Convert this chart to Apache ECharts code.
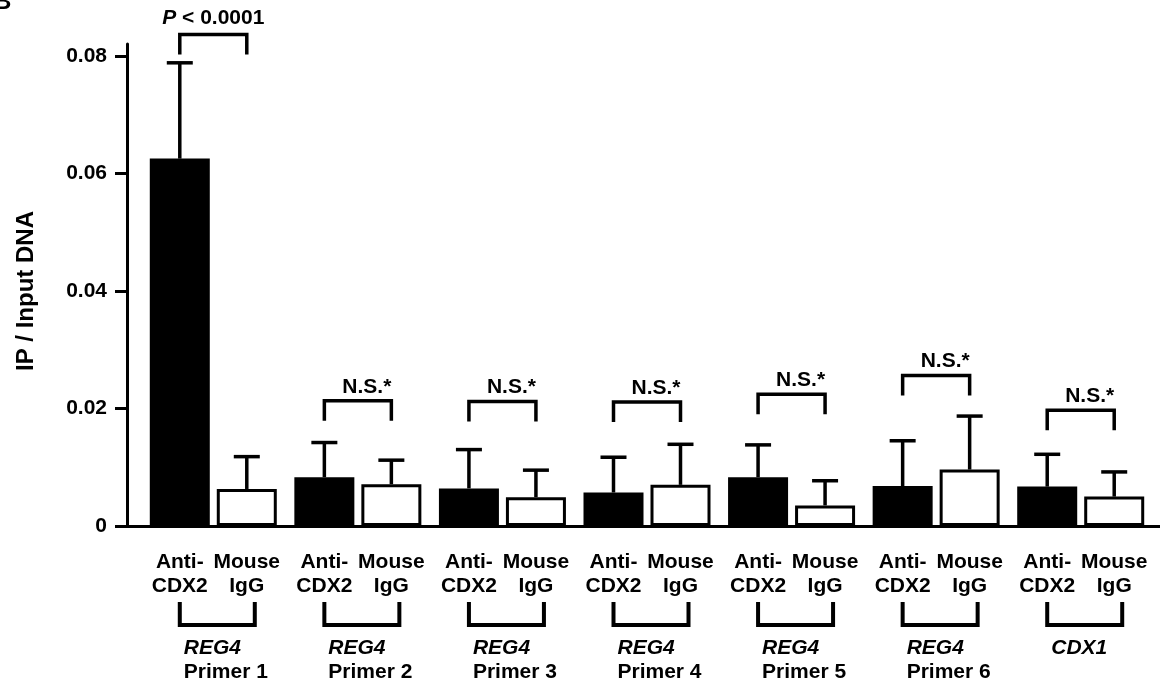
<!DOCTYPE html>
<html>
<head>
<meta charset="utf-8">
<script src="https://cdn.jsdelivr.net/npm/echarts@6/dist/echarts.min.js"></script>
<style>
  html, body { margin: 0; padding: 0; background: #fff; }
  #chart { width: 1160px; height: 687px; }
</style>
</head>
<body>
<div id="chart"></div>
<script>
// ChIP: anti-CDX2 vs mouse IgG, IP / input DNA
var groups = ['REG4 Primer 1', 'REG4 Primer 2', 'REG4 Primer 3', 'REG4 Primer 4', 'REG4 Primer 5', 'REG4 Primer 6', 'CDX1'];
var genes = ['REG4', 'REG4', 'REG4', 'REG4', 'REG4', 'REG4', 'CDX1'];
var primers = ['Primer 1', 'Primer 2', 'Primer 3', 'Primer 4', 'Primer 5', 'Primer 6', ''];

var antiCdx2 = [0.0625, 0.0083, 0.0064, 0.0057, 0.0083, 0.0068, 0.0067];
var antiCdx2Err = [0.0163, 0.0059, 0.0066, 0.0060, 0.0055, 0.0077, 0.0055];
var mouseIgg = [0.0063, 0.0071, 0.0049, 0.0070, 0.0035, 0.0096, 0.0050];
var mouseIggErr = [0.0055, 0.0041, 0.0046, 0.0069, 0.0042, 0.0091, 0.0042];

// height of the comparison bracket over each pair, and its text
var sigLevel = [0.0836, 0.0213, 0.0212, 0.0211, 0.0224, 0.0256, 0.0197];
var sigText = ['P < 0.0001', 'N.S.*', 'N.S.*', 'N.S.*', 'N.S.*', 'N.S.*', 'N.S.*'];

var yTicks = [0, 0.02, 0.04, 0.06, 0.08];
var yMax = 0.082;

var FONT = '"Liberation Sans", Arial, Helvetica, sans-serif';
var FS = 21;
var BAR_W = 60;
var GAP_PX = 7;
var HALF = (BAR_W + GAP_PX) / 2; // distance from group centre to each bar centre

var myChart = echarts.init(document.getElementById('chart'));

function errorBar(offset) {
  return function (params, api) {
    var i = api.value(0);
    var base = api.coord([i, api.value(1)]);
    var top = api.coord([i, api.value(2)]);
    var x = base[0] + offset;
    return {
      type: 'group',
      children: [
        { type: 'line', shape: { x1: x, y1: base[1], x2: x, y2: top[1] }, style: { stroke: '#000', lineWidth: 3.5 } },
        { type: 'line', shape: { x1: x - 13, y1: top[1], x2: x + 13, y2: top[1] }, style: { stroke: '#000', lineWidth: 3.5 } }
      ]
    };
  };
}

function bracketItem(params, api) {
  var i = api.value(0);
  var c = api.coord([i, api.value(1)]);
  var b = api.coord([i, 0]);
  var xl = c[0] - HALF;
  var xr = c[0] + HALF;
  var y = c[1];
  var txt = sigText[i];
  var textEl;
  if (txt.charAt(0) === 'P') {
    textEl = {
      type: 'text',
      style: {
        x: c[0], y: y - 16,
        text: '{i|P}{n|' + txt.slice(1) + '}',
        align: 'center', verticalAlign: 'middle',
        rich: {
          i: { fontFamily: FONT, fontSize: FS, fontWeight: 'bold', fontStyle: 'italic', fill: '#000' },
          n: { fontFamily: FONT, fontSize: FS, fontWeight: 'bold', fill: '#000' }
        }
      }
    };
  } else {
    textEl = {
      type: 'text',
      style: {
        x: c[0] + 9, y: y - 14, text: txt,
        align: 'center', verticalAlign: 'middle',
        fontFamily: FONT, fontSize: FS, fontWeight: 'bold', fill: '#000'
      }
    };
  }
  return {
    type: 'group',
    children: [
      {
        type: 'polyline',
        shape: { points: [[xl, y + 20], [xl, y], [xr, y], [xr, y + 20]] },
        style: { stroke: '#000', lineWidth: 3.5, fill: 'none' }
      },
      textEl,
      {
        type: 'polyline',
        shape: { points: [[xl, b[1] + 76], [xl, b[1] + 99], [xr + 8, b[1] + 99], [xr + 8, b[1] + 76]] },
        style: { stroke: '#000', lineWidth: 4, fill: 'none' }
      }
    ]
  };
}

var labelRich = {
  a: { width: HALF * 2, align: 'center', fontFamily: FONT, fontSize: FS, fontWeight: 'bold', color: '#000', lineHeight: 24 },
  gap: { width: HALF * 4, align: 'left', lineHeight: 38, fontSize: 10 },
  sp: { width: HALF + 4, align: 'left', fontFamily: FONT, fontSize: FS, lineHeight: 24 },
  g: { width: HALF * 3 - 4, align: 'left', fontFamily: FONT, fontSize: FS, fontWeight: 'bold', fontStyle: 'italic', color: '#000', lineHeight: 24 },
  p: { width: HALF * 3 - 4, align: 'left', fontFamily: FONT, fontSize: FS, fontWeight: 'bold', color: '#000', lineHeight: 24 }
};

var option = {
  animation: false,
  textStyle: { fontFamily: FONT, color: '#000' },
  title: {
    text: 'B', left: -11, top: -15,
    textStyle: { fontFamily: FONT, fontSize: 24, fontWeight: 'bold', color: '#000' }
  },
  grid: [
    { left: 141, right: 7, top: 44, bottom: 161 },
    { left: 127, right: 0, top: 44, bottom: 161 }
  ],
  xAxis: [
    {
      type: 'category',
      gridIndex: 0,
      data: groups,
      axisLine: { show: false },
      axisTick: { show: false },
      axisLabel: {
        interval: 0,
        margin: 24,
        formatter: function (value, idx) {
          var s = '{a|Anti-}{a|Mouse}\n{a|CDX2}{a|IgG}\n{gap| }\n{sp| }{g|' + genes[idx] + '}';
          if (primers[idx]) s += '\n{sp| }{p|' + primers[idx] + '}';
          return s;
        },
        rich: labelRich
      }
    },
    {
      type: 'value',
      gridIndex: 1,
      min: 0,
      max: 1,
      axisLine: { show: true, lineStyle: { color: '#000', width: 3 } },
      axisTick: { show: false },
      axisLabel: { show: false },
      splitLine: { show: false }
    }
  ],
  yAxis: [
    {
      type: 'value',
      gridIndex: 1,
      min: 0,
      max: yMax,
      name: 'IP / Input DNA',
      nameLocation: 'middle',
      nameGap: 89,
      nameTextStyle: { fontFamily: FONT, fontSize: 24, fontWeight: 'bold', color: '#000', padding: [0, 12, 0, 0] },
      axisLine: { show: true, lineStyle: { color: '#000', width: 3 } },
      axisTick: { show: true, length: 12, lineStyle: { color: '#000', width: 3 }, customValues: yTicks },
      axisLabel: { margin: 20, fontFamily: FONT, fontSize: FS, fontWeight: 'bold', color: '#000', customValues: yTicks },
      splitLine: { show: false }
    },
    {
      type: 'value',
      gridIndex: 0,
      min: 0,
      max: yMax,
      show: false
    }
  ],
  series: [
    {
      name: 'Anti-CDX2',
      type: 'bar',
      xAxisIndex: 0,
      yAxisIndex: 1,
      barWidth: BAR_W,
      barGap: (GAP_PX / BAR_W * 100) + '%',
      data: antiCdx2,
      itemStyle: { color: '#000', borderColor: '#000', borderWidth: 3 },
      emphasis: { disabled: true }
    },
    {
      name: 'Mouse IgG',
      type: 'bar',
      xAxisIndex: 0,
      yAxisIndex: 1,
      barWidth: BAR_W,
      data: mouseIgg,
      itemStyle: { color: '#fff', borderColor: '#000', borderWidth: 3 },
      emphasis: { disabled: true }
    },
    {
      type: 'custom',
      xAxisIndex: 0,
      yAxisIndex: 1,
      z: 3,
      renderItem: errorBar(-HALF),
      encode: { x: 0, y: [1, 2] },
      data: antiCdx2.map(function (v, i) { return [i, v, v + antiCdx2Err[i]]; })
    },
    {
      type: 'custom',
      xAxisIndex: 0,
      yAxisIndex: 1,
      z: 3,
      renderItem: errorBar(HALF),
      encode: { x: 0, y: [1, 2] },
      data: mouseIgg.map(function (v, i) { return [i, v, v + mouseIggErr[i]]; })
    },
    {
      type: 'custom',
      xAxisIndex: 0,
      yAxisIndex: 1,
      z: 3,
      clip: false,
      renderItem: bracketItem,
      encode: { x: 0, y: 1 },
      data: sigLevel.map(function (v, i) { return [i, v]; })
    }
  ]
};

myChart.setOption(option);
</script>
</body>
</html>
